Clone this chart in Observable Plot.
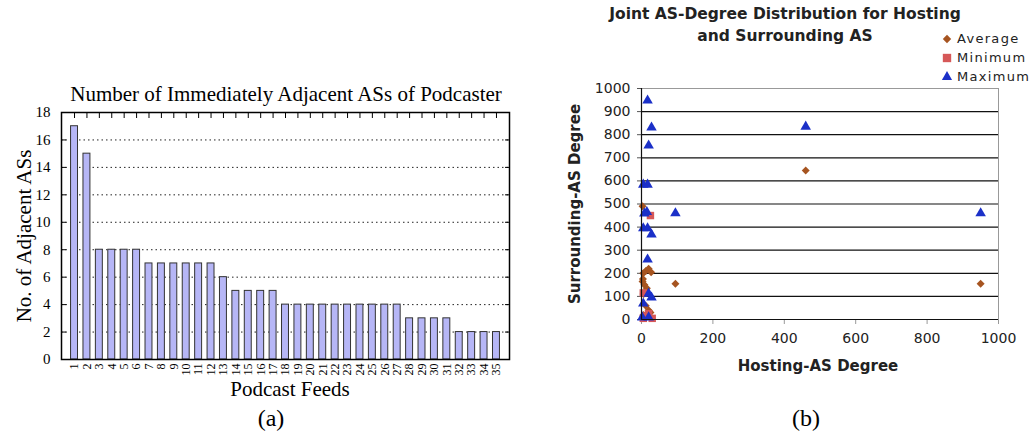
<!DOCTYPE html>
<html><head><meta charset="utf-8">
<script src="https://cdn.jsdelivr.net/npm/d3@7"></script>
<script src="https://cdn.jsdelivr.net/npm/@observablehq/plot@0.6"></script>
<style>
body{margin:0;background:#fff;}
#wrap{position:relative;width:1034px;height:439px;overflow:hidden;background:#fff;}
.abs{position:absolute;white-space:nowrap;line-height:1;}
.serif{font-family:"Liberation Serif","Times New Roman",serif;color:#000;}
.sans{font-family:"DejaVu Sans",Verdana,sans-serif;color:#222;}
.c{transform:translate(-50%,-50%);}
.rot{transform:translate(-50%,-50%) rotate(-90deg);}
.leg{display:flex;align-items:center;font-size:13px;letter-spacing:1.3px;height:19px;}
.leg svg{margin-right:4px;}
</style></head><body><div id="wrap"></div>
<script>
// ---- Panel (a) data ----
const feedLabels = ["1","2","3","4","5","6","7","8","9","10","11","12","13","14","15","16","17","18","19","20","21","22","23","24","25","26","27","28","29","30","31","32","33","34","35"];
const adjacentASs = [17,15,8,8,8,8,7,7,7,7,7,7,6,5,5,5,5,4,4,4,4,4,4,4,4,4,4,3,3,3,3,2,2,2,2];
const yTicksA = [0,2,4,6,8,10,12,14,16,18];
const gridA = [2,4,6,8,10,12,14,16];

// ---- Panel (b) data ----
const avgX = [460, 95, 950, 3, 5, 12, 20, 27, 4, 8, 15, 6, 10, 3, 20, 25, 6, 12];
const avgY = [645, 155, 155, 490, 200, 210, 220, 205, 175, 150, 135, 110, 120, 165, 40, 30, 20, 60];
const minX = [25, 5, 30, 5, 12, 20];
const minY = [450, 115, 5, 5, 15, 25];
const maxX = [17, 28, 20, 5, 17, 460, 8, 15, 95, 950, 5, 17, 28, 17, 20, 28, 5, 2, 20];
const maxY = [948, 831, 753, 584, 584, 835, 459, 465, 460, 460, 395, 395, 368, 260, 112, 95, 69, 9, 9];
const seriesNames = ["Average","Minimum","Maximum"];
const seriesColors = ["#a65420","#d65858","#1b30c8"];
const seriesSymbols = ["diamond2","square","triangle"];
const yTicksB = [0,100,200,300,400,500,600,700,800,900,1000];
const xTicksB = [0,200,400,600,800,1000];

const wrap = document.getElementById("wrap");
function addDiv(html, cls, left, top, style="") {
  const d = document.createElement("div");
  d.className = "abs " + cls;
  d.style.cssText = `left:${left}px;top:${top}px;${style}`;
  d.innerHTML = html;
  wrap.appendChild(d);
  return d;
}

// ---------- Chart (a) ----------
const barData = feedLabels.map((f, i) => ({feed: f, n: adjacentASs[i]}));
const chartA = Plot.plot({
  width: 530, height: 290,
  marginLeft: 61, marginRight: 21, marginTop: 12, marginBottom: 31,
  style: {fontFamily: '"Liberation Serif","Times New Roman",serif', fontSize: "15px", color: "#000", background: "transparent"},
  x: {type: "band", domain: feedLabels, paddingInner: 0.44, paddingOuter: 0.77, round: false, label: null},
  y: {domain: [0, 18], label: null},
  marks: [
    Plot.ruleY(gridA, {stroke: "#222", strokeDasharray: "1.5,3", strokeWidth: 1}),
    Plot.barY(barData, {x: "feed", y: "n", fill: "#b6b6f6", stroke: "#333", strokeWidth: 1}),
    Plot.axisY({anchor: "left", ticks: yTicksA, tickSize: -5, tickPadding: 16, fontSize: 15, label: null}),
    Plot.axisY({anchor: "right", ticks: yTicksA, tickSize: -5, tickFormat: () => "", label: null}),
    Plot.axisX({anchor: "top", tickSize: -5, tickFormat: () => "", label: null}),
    Plot.axisX({anchor: "bottom", tickSize: 0, tickPadding: 4, tickRotate: -90, fontSize: 12, label: null}),
    Plot.frame({stroke: "#000", strokeWidth: 1.5})
  ]
});
chartA.style.position = "absolute";
chartA.style.left = "0px";
chartA.style.top = "100px";
wrap.appendChild(chartA);

addDiv("Number of Immediately Adjacent ASs of Podcaster", "serif c", 286, 94, "font-size:21px;");
addDiv("No. of Adjacent ASs", "serif rot", 24, 236, "font-size:21px;");
addDiv("Podcast Feeds", "serif c", 290, 389, "font-size:21px;");
addDiv("(a)", "serif c", 271, 418, "font-size:24px;");
addDiv("(b)", "serif c", 806, 418, "font-size:24px;");

// ---------- Chart (b) ----------
const pts = [
  ...avgX.map((x, i) => ({s: "Average", x, y: avgY[i]})),
  ...minX.map((x, i) => ({s: "Minimum", x, y: minY[i]})),
  ...maxX.map((x, i) => ({s: "Maximum", x, y: maxY[i]}))
];
const chartB = Plot.plot({
  width: 474, height: 290,
  marginLeft: 81, marginRight: 36, marginTop: 10, marginBottom: 49,
  style: {fontFamily: '"DejaVu Sans",Verdana,sans-serif', fontSize: "14px", color: "#222", background: "transparent"},
  x: {domain: [0, 1000], label: null},
  y: {domain: [0, 1000], label: null},
  color: {domain: seriesNames, range: seriesColors},
  symbol: {domain: seriesNames, range: seriesSymbols},
  marks: [
    Plot.ruleY(yTicksB.filter(d => d > 0 && d < 1000), {stroke: "#111", strokeWidth: 1.2}),
    Plot.ruleY([1000], {stroke: "#999"}),
    Plot.ruleX([1000], {stroke: "#999"}),
    Plot.axisY({ticks: yTicksB, tickFormat: d3.format("d"), tickSize: 4, tickPadding: 7, stroke: "#555", label: null}),
    Plot.axisX({ticks: xTicksB, tickFormat: d3.format("d"), tickSize: 5, tickPadding: 9, stroke: "#999", label: null}),
    Plot.dot(pts.filter(d => d.s === "Average"), {x: "x", y: "y", symbol: "s", fill: "s", r: 3.6, stroke: "none"}),
    Plot.dot(pts.filter(d => d.s === "Minimum"), {x: "x", y: "y", symbol: "s", fill: "s", r: 4.2, stroke: "none"}),
    Plot.dot(pts.filter(d => d.s === "Maximum"), {x: "x", y: "y", symbol: "s", fill: "s", r: 3.9, stroke: "none"}),
    Plot.ruleX([0], {stroke: "#111", strokeWidth: 1.2}),
    Plot.ruleY([0], {stroke: "#111", strokeWidth: 1.2})
  ]
});
chartB.style.position = "absolute";
chartB.style.left = "560px";
chartB.style.top = "78px";
wrap.appendChild(chartB);

addDiv("Joint AS-Degree Distribution for Hosting", "sans c", 785, 15, "font-size:15.5px;font-weight:bold;");
addDiv("and Surrounding AS", "sans c", 785, 37, "font-size:15.5px;font-weight:bold;");
addDiv("Surrounding-AS Degree", "sans rot", 575, 204, "font-size:15px;font-weight:bold;");
addDiv("Hosting-AS Degree", "sans c", 818, 366, "font-size:15px;font-weight:bold;");

// legend
const legend = document.createElement("div");
legend.className = "abs sans";
legend.style.cssText = "left:941px;top:29px;";
seriesNames.forEach((name, i) => {
  const row = document.createElement("div");
  row.className = "leg";
  const sym = {diamond2: d3.symbolDiamond2, square: d3.symbolSquare, triangle: d3.symbolTriangle}[seriesSymbols[i]];
  const path = d3.symbol(sym, i === 1 ? 70 : 45)();
  row.innerHTML = `<svg width="12" height="12" viewBox="-6 -6 12 12"><path d="${path}" fill="${seriesColors[i]}"/></svg><span>${name}</span>`;
  legend.appendChild(row);
});
wrap.appendChild(legend);
</script></body></html>
